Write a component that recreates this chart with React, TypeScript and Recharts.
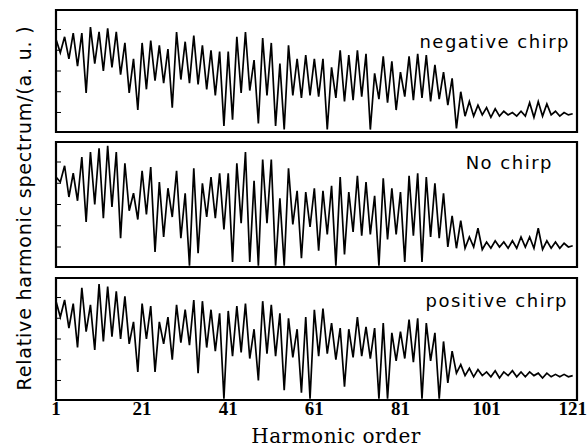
import { LineChart, Line, XAxis, YAxis, ReferenceArea } from 'recharts';

// spectra, one value per harmonic order 1..121
const NEGATIVE_CHIRP = [
  7.6, 6.5, 7.8, 6.0, 8.1, 5.4, 8.1, 3.2, 8.6, 5.6,
  8.2, 5.0, 8.5, 5.3, 8.2, 4.7, 7.3, 3.2, 6.0, 1.8,
  7.3, 3.5, 7.5, 4.2, 7.1, 4.0, 6.8, 2.0, 8.2, 4.3,
  7.4, 4.0, 7.9, 3.9, 7.1, 3.5, 6.7, 3.0, 6.6, 0.5,
  6.6, 1.0, 7.8, 3.2, 8.2, 3.4, 5.9, 0.7, 7.7, 3.0,
  7.3, 0.5, 5.6, 0.2, 7.1, 3.0, 6.0, 2.8, 6.3, 3.0,
  6.0, 2.9, 6.0, 0.2, 5.3, 2.8, 6.7, 2.5, 6.3, 2.6,
  6.7, 2.9, 6.4, 0.2, 4.8, 2.7, 6.2, 2.4, 5.8, 1.8,
  4.9, 2.9, 6.2, 2.6, 6.4, 2.8, 6.3, 2.5, 5.5, 2.7,
  4.9, 2.2, 4.4, 0.3, 3.3, 1.3, 2.5, 1.3, 2.2, 1.4,
  2.0, 1.2, 1.9, 1.3, 1.7, 1.4, 1.6, 1.3, 1.7, 1.3,
  2.4, 1.2, 2.5, 1.3, 2.3, 1.4, 1.7, 1.3, 1.6, 1.4,
  1.5,
];

const NO_CHIRP = [
  7.2, 6.8, 8.1, 5.6, 7.5, 5.3, 8.8, 3.6, 9.2, 5.0,
  9.5, 3.9, 9.7, 4.8, 9.2, 2.3, 8.3, 4.5, 5.9, 3.8,
  7.7, 4.2, 8.0, 1.2, 6.8, 2.4, 6.3, 4.0, 7.7, 2.3,
  5.9, 0.1, 7.9, 1.1, 6.7, 4.0, 7.2, 3.9, 7.5, 3.0,
  7.5, 0.4, 8.3, 3.5, 9.2, 0.4, 6.9, 0.1, 8.6, 3.5,
  8.6, 0.1, 5.5, 0.1, 7.9, 3.4, 6.1, 0.7, 6.0, 3.2,
  6.3, 1.3, 6.1, 2.6, 6.5, 0.1, 7.2, 1.0, 6.0, 2.8,
  7.3, 2.5, 6.8, 2.6, 5.7, 0.1, 7.1, 2.2, 6.3, 2.6,
  6.0, 0.4, 7.3, 2.5, 7.5, 0.4, 7.2, 2.4, 6.7, 2.3,
  5.9, 1.6, 4.1, 1.5, 3.7, 1.5, 2.4, 1.6, 3.1, 1.4,
  2.0, 1.5, 2.1, 1.6, 2.0, 1.5, 2.1, 1.5, 2.4, 1.6,
  2.4, 1.5, 3.1, 1.4, 2.1, 1.5, 2.0, 1.5, 1.9, 1.6,
  1.7,
];

const POSITIVE_CHIRP = [
  8.1, 6.8, 8.2, 5.9, 7.9, 4.3, 9.2, 5.6, 7.8, 4.1,
  9.5, 4.8, 9.3, 5.2, 8.9, 5.0, 8.5, 4.6, 6.4, 2.3,
  7.9, 5.0, 7.7, 2.3, 6.4, 4.6, 6.8, 3.3, 7.8, 4.7,
  7.4, 4.5, 8.2, 2.2, 8.1, 4.3, 7.4, 4.0, 7.1, 0.1,
  7.3, 3.6, 7.7, 3.9, 7.9, 3.4, 5.8, 1.6, 8.1, 3.8,
  7.8, 3.6, 7.1, 0.8, 6.7, 3.5, 5.8, 0.6, 6.8, 0.1,
  7.4, 3.6, 7.5, 3.8, 6.3, 3.3, 5.9, 1.1, 5.8, 3.5,
  6.8, 3.6, 6.0, 3.4, 5.9, 0.1, 6.3, 0.1, 5.5, 3.2,
  5.6, 3.4, 6.6, 3.1, 6.7, 0.1, 6.3, 3.2, 5.5, 0.1,
  4.8, 1.4, 4.0, 2.2, 2.9, 2.0, 2.6, 1.9, 2.5, 2.0,
  2.3, 1.9, 2.4, 1.8, 2.3, 2.0, 2.4, 1.9, 2.3, 1.9,
  2.3, 2.0, 2.2, 1.8, 2.2, 1.9, 2.1, 1.9, 2.1, 1.9,
  2.0,
];

const X_TICKS = [1, 21, 41, 61, 81, 101, 121];
const Y_TICKS = [1.6, 3.3, 5.0, 6.7, 8.4];

const W = 588;
const H = 448;
const PLOT_LEFT = 57;
const PLOT_RIGHT = 577;
const X_DOMAIN: [number, number] = [1, 122];

const toRows = (values: number[]) =>
  values.map((value, i) => ({ order: i + 1, value }));

interface PanelProps {
  values: number[];
  top: number;
  bottom: number;
  showTicks?: boolean;
}

function Panel({ values, top, bottom, showTicks = false }: PanelProps) {
  return (
    <div style={{ position: 'absolute', left: 0, top: 0 }}>
      <LineChart
        width={W}
        height={H}
        data={toRows(values)}
        margin={{ top, bottom: H - bottom - 1, left: PLOT_LEFT - 1, right: W - PLOT_RIGHT }}
      >
        <XAxis
          dataKey="order"
          type="number"
          domain={X_DOMAIN}
          ticks={X_TICKS}
          height={1}
          axisLine={false}
          tickLine={false}
          tickSize={0}
          tickMargin={2}
          interval={0}
          tick={
            showTicks
              ? { fill: '#000', fontSize: 19, fontWeight: 'bold', fontFamily: 'Liberation Serif' }
              : false
          }
        />
        <YAxis
          domain={[0, 10]}
          ticks={Y_TICKS}
          width={1}
          mirror
          axisLine={false}
          tickLine={{ stroke: '#000', strokeWidth: 1 }}
          tickSize={5}
          tickFormatter={() => ''}
        />
        <ReferenceArea
          x1={X_DOMAIN[0]}
          x2={X_DOMAIN[1]}
          y1={0}
          y2={10}
          fill="none"
          stroke="#000"
          strokeWidth={2.2}
          ifOverflow="visible"
        />
        <Line
          type="linear"
          dataKey="value"
          stroke="#000"
          strokeWidth={1.7}
          dot={false}
          isAnimationActive={false}
        />
      </LineChart>
    </div>
  );
}

export default function App() {
  const labelStyle = { fontFamily: 'DejaVu Sans', fontSize: 18, letterSpacing: 1.5, fill: '#000' };
  return (
    <div
      style={{
        position: 'fixed',
        left: 0,
        top: 0,
        width: W,
        height: H,
        background: '#fff',
      }}
    >
      <Panel values={NEGATIVE_CHIRP} top={10} bottom={132} />
      <Panel values={NO_CHIRP} top={142} bottom={267} />
      <Panel values={POSITIVE_CHIRP} top={278} bottom={400} showTicks />
      <svg
        width={W}
        height={H}
        style={{ position: 'absolute', left: 0, top: 0, pointerEvents: 'none' }}
      >
        <text x={570} y={48} textAnchor="end" {...labelStyle}>negative chirp</text>
        <text x={553} y={169} textAnchor="end" {...labelStyle}>No chirp</text>
        <text x={568} y={307} textAnchor="end" {...labelStyle}>positive chirp</text>
        <text
          x={336}
          y={443}
          textAnchor="middle"
          fontFamily="DejaVu Serif"
          fontSize={20}
          letterSpacing={0.5}
          fill="#000"
        >
          Harmonic order
        </text>
        <text
          transform="translate(31, 208) rotate(-90)"
          textAnchor="middle"
          fontFamily="DejaVu Sans"
          fontSize={19}
          letterSpacing={0.8}
          fill="#000"
        >
          Relative harmonic spectrum/(a. u. )
        </text>
      </svg>
    </div>
  );
}
